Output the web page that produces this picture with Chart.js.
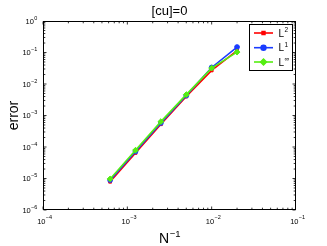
<!DOCTYPE html>
<html><head><meta charset="utf-8">
<script src="https://cdn.jsdelivr.net/npm/chart.js@4/dist/chart.umd.min.js"></script>
<style>html,body{margin:0;padding:0;background:#fff}#wrap{width:327px;height:246px}</style>
</head><body><div id="wrap"><canvas id="c" width="327" height="246"></canvas></div>
<script>
const xValues = [1/1600, 1/800, 1/400, 1/200, 1/100, 1/50];
const errL2   = [7.9e-6, 6.5e-5, 5.3e-4, 4.0e-3, 2.7e-2, 1.14e-1];
const errL1   = [8.9e-6, 7.2e-5, 5.8e-4, 4.3e-3, 3.35e-2, 1.49e-1];
const errLinf = [9.7e-6, 7.9e-5, 6.4e-4, 4.6e-3, 3.2e-2, 1.03e-1];
const xTickExps = [-4, -3, -2, -1];
const yTickExps = [0, -1, -2, -3, -4, -5, -6];
const seriesNames = ['L2', 'L1', 'Linf'];
const seriesSup = ['2', '1', '\u221E'];
const titleText = '[cu]=0';
const xTitle = 'N';
const xTitleSup = '\u22121';
const yTitle = 'error';

const FONT = '"Liberation Sans", Arial, "DejaVu Sans", sans-serif';
function pts(ys){ return xValues.map((x,i)=>({x:x, y:ys[i]})); }

const styles = [
  {color:'#ff0000', pointStyle:'rect', radius:2.0, order:3},
  {color:'#1a3cff', pointStyle:'circle', radius:2.4, order:2},
  {color:'#55ee11', pointStyle:'rectRot', radius:2.9, order:1}
];
const allData = [errL2, errL1, errLinf];

const datasets = allData.map((d,i)=>({
  label: seriesNames[i],
  data: pts(d),
  borderColor: styles[i].color,
  backgroundColor: styles[i].color,
  pointStyle: styles[i].pointStyle,
  pointRadius: styles[i].radius,
  pointBorderWidth: 1,
  borderWidth: 1.6,
  tension: 0,
  order: styles[i].order
}));

function drawPow(ctx, x, y, base, exp, align){
  ctx.font = '7.5px ' + FONT;
  const wb = ctx.measureText(base).width;
  ctx.font = '5.5px ' + FONT;
  const we = ctx.measureText(exp).width;
  const tot = wb + we;
  let sx = align==='center' ? x - tot/2 : x - tot;
  ctx.textAlign = 'left'; ctx.textBaseline = 'alphabetic';
  ctx.font = '7.5px ' + FONT;
  ctx.fillText(base, sx, y);
  ctx.font = '5.5px ' + FONT;
  ctx.fillText(exp, sx + wb + 0.3, y - 4.2);
}

const deco = {
  id:'deco',
  afterDraw(chart){
    const ctx = chart.ctx, a = chart.chartArea;
    const xs = chart.scales.x, ys = chart.scales.y;
    ctx.save();
    ctx.fillStyle = '#000'; ctx.strokeStyle = '#000'; ctx.lineWidth = 1;
    const L = Math.round(a.left)+0.5, R = Math.round(a.right)-0.5, T = Math.round(a.top)+0.5, B = Math.round(a.bottom)-0.5;
    ctx.strokeRect(L, T, R-L, B-T);
    ctx.lineWidth = 0.8;
    ctx.beginPath();
    for (let e=-4; e<-1; e++){
      for (let m=1; m<10; m++){
        const px = xs.getPixelForValue(m*Math.pow(10,e));
        const len = m===1 ? 3 : 1.8;
        ctx.moveTo(px, B); ctx.lineTo(px, B-len);
        ctx.moveTo(px, T); ctx.lineTo(px, T+len);
      }
    }
    for (let e=-6; e<0; e++){
      for (let m=1; m<10; m++){
        const py = ys.getPixelForValue(m*Math.pow(10,e));
        const len = m===1 ? 3 : 1.8;
        ctx.moveTo(L, py); ctx.lineTo(L+len, py);
        ctx.moveTo(R, py); ctx.lineTo(R-len, py);
      }
    }
    ctx.stroke();
    xTickExps.forEach(e=>{
      const px = xs.getPixelForValue(Math.pow(10,e));
      drawPow(ctx, px+1.5, 223.5, '10', String(e).replace('-', '\u2212'), 'center');
    });
    yTickExps.forEach(e=>{
      const py = ys.getPixelForValue(Math.pow(10,e));
      drawPow(ctx, 37, py+2.7, '10', String(e).replace('-', '\u2212'), 'right');
    });
    ctx.font = '13px ' + FONT; ctx.textAlign='center'; ctx.textBaseline='alphabetic';
    ctx.fillText(titleText, (a.left+a.right)/2, 15);
    ctx.font = '14px ' + FONT;
    const wn = ctx.measureText(xTitle).width;
    ctx.font = '9.5px ' + FONT;
    const we = ctx.measureText(xTitleSup).width;
    const cx = (a.left+a.right)/2, sx = cx - (wn+we)/2;
    ctx.textAlign='left';
    ctx.font = '14px ' + FONT; ctx.fillText(xTitle, sx, 243);
    ctx.font = '9.5px ' + FONT; ctx.fillText(xTitleSup, sx+wn+0.5, 237);
    ctx.save();
    ctx.translate(18, (a.top+a.bottom)/2);
    ctx.rotate(-Math.PI/2);
    ctx.font = '14px ' + FONT; ctx.textAlign='center';
    ctx.fillText(yTitle, 0, 0);
    ctx.restore();
    const lx = 249.5, ly = 24.5, lw = 43, lh = 46;
    ctx.fillStyle = '#fff'; ctx.fillRect(lx, ly, lw, lh);
    ctx.strokeStyle = '#000'; ctx.lineWidth = 1; ctx.strokeRect(lx, ly, lw, lh);
    const rowsY = [33, 47.7, 62];
    chart.data.datasets.forEach((ds,i)=>{
      const y = rowsY[i];
      ctx.strokeStyle = ds.borderColor; ctx.lineWidth = 1.6;
      ctx.beginPath(); ctx.moveTo(254, y); ctx.lineTo(273, y); ctx.stroke();
      ctx.fillStyle = ds.backgroundColor;
      Chart.helpers.drawPoint(ctx, {pointStyle: ds.pointStyle, radius: ds.pointRadius, borderWidth: 1, rotation:0}, 263.5, y);
      ctx.fill();
      ctx.fillStyle = '#000';
      ctx.font = '10px ' + FONT; ctx.textAlign='left';
      ctx.fillText('L', 278.5, y+3.7);
      ctx.font = '6.5px ' + FONT;
      ctx.fillText(seriesSup[i], 284.5, y-1);
    });
    ctx.restore();
  }
};

new Chart(document.getElementById('c'), {
  type:'line',
  data:{datasets: datasets},
  options:{
    responsive:false, animation:false, devicePixelRatio:1,
    layout:{padding:{top:21, right:31, left:0, bottom:0}},
    plugins:{legend:{display:false}, title:{display:false}, tooltip:{enabled:false}},
    scales:{
      x:{type:'logarithmic', min:1e-4, max:1e-1,
         ticks:{display:false}, grid:{display:false}, border:{display:false},
         afterFit(s){ s.height = 36; }},
      y:{type:'logarithmic', min:1e-6, max:1,
         ticks:{display:false}, grid:{display:false}, border:{display:false},
         afterFit(s){ s.width = 43; }}
    }
  },
  plugins:[deco]
});
</script></body></html>
